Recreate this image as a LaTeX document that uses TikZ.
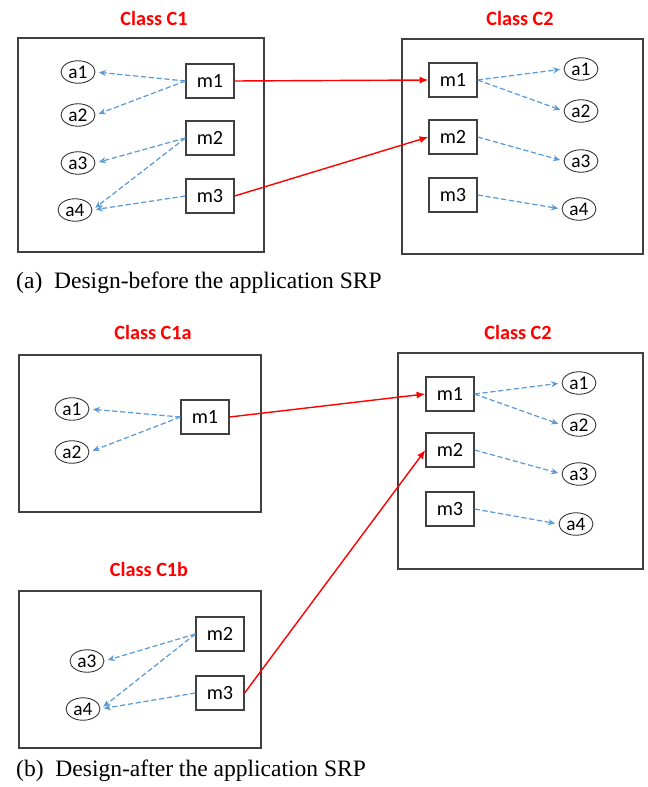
\documentclass[tikz,border=0pt]{standalone}
\usepackage{fontspec}
\setmainfont{Liberation Serif}
\newfontfamily\carlito{Carlito}
\usetikzlibrary{shapes.geometric}
\usetikzlibrary{arrows.meta}
\definecolor{linkblue}{RGB}{91,155,213}
\definecolor{framegrey}{RGB}{64,64,64}

\begin{document}
\begin{tikzpicture}[x=0.02cm,y=-0.02cm,
  frame/.style={draw=framegrey,line width=0.8pt},
  title/.style={text=red,font=\carlito\bfseries\fontsize{11.5}{13}\selectfont},
  method/.style={draw=framegrey,line width=0.7pt,minimum width=0.96cm,minimum height=0.68cm,inner sep=0pt,font=\carlito\fontsize{11.5}{13}\selectfont},
  attr/.style={draw=black!80,ellipse,line width=0.5pt,minimum width=0.68cm,minimum height=0.45cm,inner sep=0pt,font=\carlito\fontsize{11}{13}\selectfont},
  uses/.style={draw=linkblue,line width=0.7pt,dash pattern=on 3pt off 1.5pt,-{Stealth[length=4pt,width=3.5pt]},shorten >=2pt},
  calls/.style={draw=red,line width=0.8pt,-{Latex[length=5pt,width=4pt]}},
  caption/.style={anchor=west,font=\fontsize{13.4}{15}\selectfont}]
\useasboundingbox (0,0) rectangle (647,787);

% (a) before
\draw[frame] (18,38) rectangle (264,252);
\draw[frame] (402,39) rectangle (643,254);
\node[title] (t1) at (154,18) {Class C1};
\node[title] (t2) at (520,18) {Class C2};

\node[attr] (pa1) at (78,72) {a1};
\node[attr] (pa2) at (78,115) {a2};
\node[attr] (pa3) at (78,163) {a3};
\node[attr] (pa4) at (75,210) {a4};
\node[method] (pm1) at (210,81) {m1};
\node[method] (pm2) at (210,138) {m2};
\node[method] (pm3) at (210,196) {m3};

\node[method] (qm1) at (453,80) {m1};
\node[method] (qm2) at (453,137) {m2};
\node[method] (qm3) at (453,195) {m3};
\node[attr] (qa1) at (581,69) {a1};
\node[attr] (qa2) at (581,111) {a2};
\node[attr] (qa3) at (581,161) {a3};
\node[attr] (qa4) at (579,209) {a4};

\draw[uses] (pm1.west) -- (pa1.east);
\draw[uses] (pm1.west) -- (pa2.east);
\draw[uses] (pm2.west) -- (pa3.east);
\draw[uses] (pm2.west) -- (pa4.east);
\draw[uses] (pm3.west) -- (pa4.east);
\draw[uses] (qm1.east) -- (qa1.west);
\draw[uses] (qm1.east) -- (qa2.west);
\draw[uses] (qm2.east) -- (qa3.west);
\draw[uses] (qm3.east) -- (qa4.west);
\draw[calls] (pm1.east) -- (qm1.west);
\draw[calls] (pm3.east) -- (qm2.west);

\node[caption] (capa) at (10,283) {(a)\ \ Design-before the application SRP};

% (b) after
\draw[frame] (19,355) rectangle (261,512);
\draw[frame] (398,353) rectangle (643,569);
\draw[frame] (19,591) rectangle (261,748);
\node[title] (t3) at (153,332) {Class C1a};
\node[title] (t4) at (518,332) {Class C2};
\node[title] (t5) at (149,569) {Class C1b};

\node[attr] (ra1) at (72,409) {a1};
\node[attr] (ra2) at (72,452) {a2};
\node[method] (rm1) at (205,417) {m1};

\node[attr] (sa3) at (87,661) {a3};
\node[attr] (sa4) at (83,709) {a4};
\node[method] (sm2) at (220,634) {m2};
\node[method] (sm3) at (220,693) {m3};

\node[method] (um1) at (450,394) {m1};
\node[method] (um2) at (450,450) {m2};
\node[method] (um3) at (450,509) {m3};
\node[attr] (ua1) at (579,383) {a1};
\node[attr] (ua2) at (579,425) {a2};
\node[attr] (ua3) at (579,474) {a3};
\node[attr] (ua4) at (576,524) {a4};

\draw[uses] (rm1.west) -- (ra1.east);
\draw[uses] (rm1.west) -- (ra2.east);
\draw[uses] (sm2.west) -- (sa3.east);
\draw[uses] (sm2.west) -- (sa4.east);
\draw[uses] (sm3.west) -- (sa4.east);
\draw[uses] (um1.east) -- (ua1.west);
\draw[uses] (um1.east) -- (ua2.west);
\draw[uses] (um2.east) -- (ua3.west);
\draw[uses] (um3.east) -- (ua4.west);
\draw[calls] (rm1.east) -- (um1.west);
\draw[calls] (sm3.east) -- (um2.west);

\node[caption] (capb) at (10,771) {(b)\ \ Design-after the application SRP};
\end{tikzpicture}
\end{document}
